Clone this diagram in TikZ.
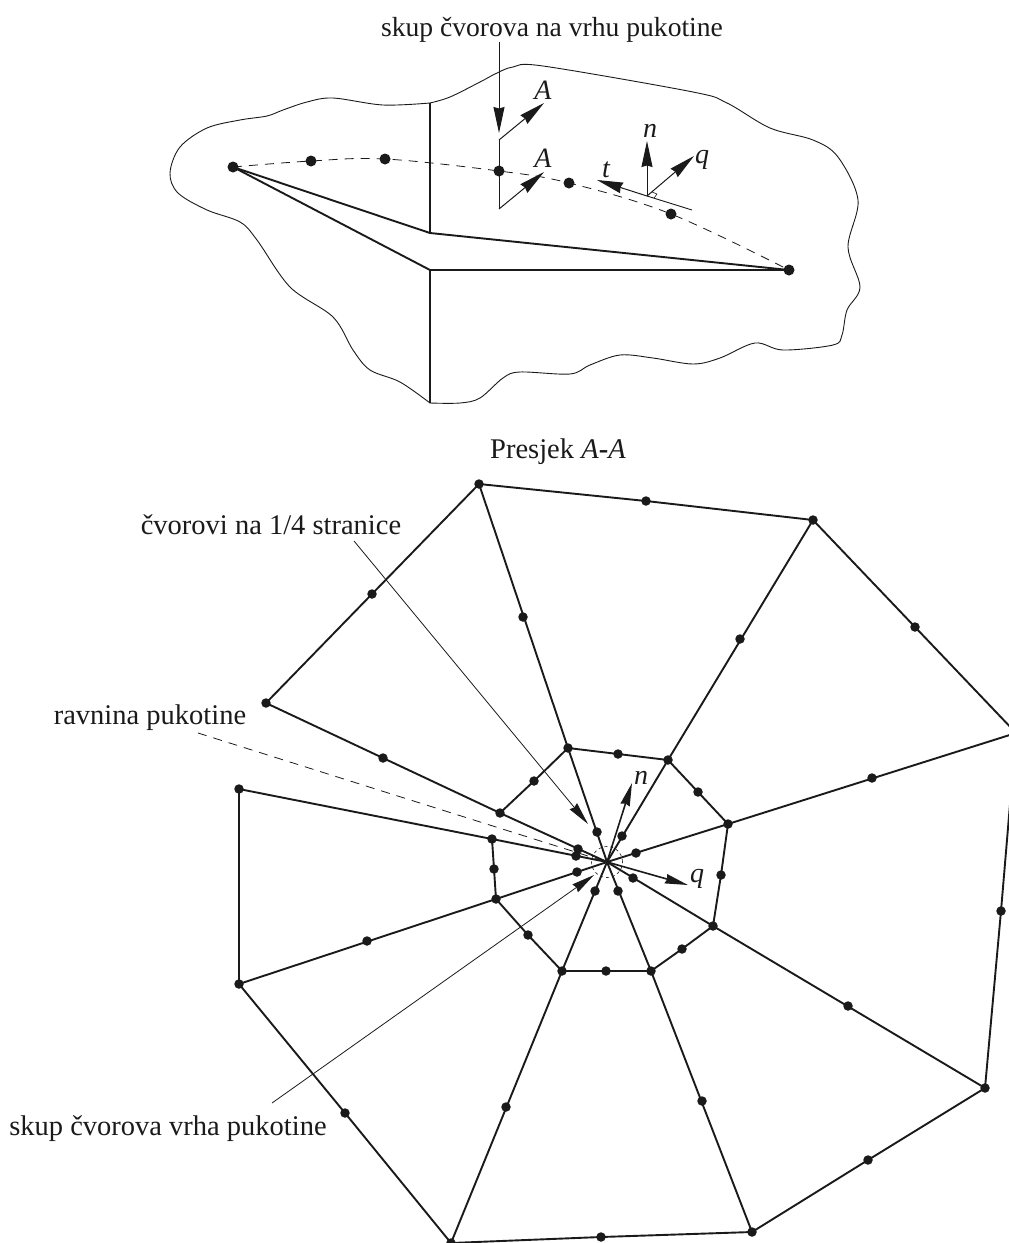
\documentclass[tikz,border=0pt]{standalone}
\usepackage{fontspec}
\setmainfont{Liberation Serif}
\usetikzlibrary{arrows.meta}
\definecolor{ink}{HTML}{1A1A1A}
\tikzset{
  dotbig/.style={circle,fill=ink,inner sep=0pt,minimum size=11pt},
  dotsm/.style={circle,fill=ink,inner sep=0pt,minimum size=9.5pt},
  thickl/.style={draw=ink,line width=1.9pt,line join=round},
  thinl/.style={draw=ink,line width=0.9pt},
  dashl/.style={draw=ink,line width=0.8pt,dash pattern=on 9pt off 7pt},
  arr/.style={draw=ink,line width=1pt,-{Stealth[length=26pt,width=11pt,inset=1.5pt,fill=ink]}},
  arrs/.style={draw=ink,line width=1pt,-{Stealth[length=23pt,width=9.5pt,inset=1.5pt,fill=ink]}},
  lab/.style={inner sep=0pt,text=ink,font=\fontsize{28.5}{32}\selectfont},
  labt/.style={inner sep=0pt,text=ink,font=\fontsize{27.6}{32}\selectfont},
  sym/.style={inner sep=0pt,text=ink,font=\fontsize{28}{32}\selectfont\itshape}
}
\begin{document}
\begin{tikzpicture}[x=1pt,y=-1pt]
\useasboundingbox (0,0) rectangle (1009,1243);
\clip (0,0) rectangle (1009,1243);
% --- upper view ---
\draw[draw=ink,line width=0.9pt] plot[smooth,tension=0.55] coordinates {
 (430,103) (383,105) (333,98) (307,102) (283,110) (267,116) (240,120) (207,128) (180,147) (170,173) (178,193) (207,210) (240,222) (257,240) (290,287) (333,317) (353,350) (370,370) (400,382) (430,403)};
\draw[draw=ink,line width=0.9pt] plot[smooth,tension=0.55] coordinates {
 (430,403) (460,403) (480,398) (503,378) (520,372) (570,374) (590,365) (620,355) (653,358) (693,364) (720,358) (755,343) (783,350) (833,345) (842,335) (847,310) (860,287) (848,247) (858,200) (838,157) (813,140) (770,128) (727,103) (693,92) (543,66) (513,67) (497,73) (480,82) (450,97) (430,103)};
\node[dotbig] (t1) at (233,167) {};
\node[dotbig] (t2) at (311,161) {};
\node[dotbig] (t3) at (385,159) {};
\node[dotbig] (t4) at (499,171) {};
\node[dotbig] (t5) at (569,183) {};
\node[dotbig] (t6) at (671,214) {};
\node[dotbig] (t7) at (789,270) {};
\draw[dashl] plot[smooth,tension=0.6] coordinates {(233,167) (311,161) (385,159) (499,171) (569,183) (671,214) (789,270)};
\coordinate (a) at (430,103);
\coordinate (b) at (430,233);
\coordinate (d) at (430,270);
\coordinate (e) at (430,403);
\draw[thickl] (a) -- (b) -- (t7.center) -- (d) -- (e);
\draw[thickl] (t1.center) -- (b);
\draw[thickl] (t1.center) -- (d);
% section A-A
\coordinate (s1) at (499,140);
\coordinate (s2) at (499,209);
\coordinate (s1e) at (544,103);
\coordinate (s2e) at (544,172);
\coordinate (lt) at (499,42);
\coordinate (lb) at (499,133);
\draw[thinl] (s1) -- (s2);
\draw[arr] (s1) -- (s1e);
\draw[arr] (s2) -- (s2e);
\draw[arr] (lt) -- (lb);
\node[sym] (la1) at (543,90) {A};
\node[sym] (la2) at (543,158) {A};
% n q t
\coordinate (o) at (647,196);
\coordinate (oN) at (647,141);
\coordinate (oQ) at (694,156);
\coordinate (oT) at (597,180);
\coordinate (oE) at (692,210);
\draw[thinl] (o) -- (oE);
\draw[arr] (o) -- (oN);
\draw[arr] (o) -- (oQ);
\draw[arr] (o) -- (oT);
\draw[draw=ink,line width=0.6pt] (652,192) -- (657,194) -- (654,198);
\node[sym] (ln) at (650,131) {n};
\node[sym] (lq) at (702,160) {q};
\node[sym] (lt2) at (606,170) {t};
\node[labt] (title) at (552,30) {skup čvorova na vrhu pukotine};
\node[lab] (sec) at (558,452) {Presjek \textit{A}{\bfseries -}\textit{A}};
% --- lower mesh ---
\coordinate (c) at (607,862);
\foreach \n/\x/\y in {o1/479/484,o2/813/520,o3/1016/733,o4/985/1088,o5/752/1232,o6/451/1243,o7/239/984,o8/239/789,o9/266/703,
  i1/568/748,i2/668/760,i3/728/824,i4/713/926,i5/651/971,i6/562/971,i7/496/899,i8/492/839,i9/500/813,
  a1/646/501,a2/915/627,a3/1001/911,a4/868/1160,a5/601/1237,a6/345/1113,a7/372/594,
  r1/523/617,r2/740/639,r3/872/778,r4/848/1006,r5/702/1101,r6/506/1107,r7/367/941,r9/383/758,
  b1/618/754,b2/698/792,b3/721/875,b4/682/949,b5/606/971,b6/528/935,b7/494/869,b8/534/781,
  q1/597/832,q2/622/836,q3/636/853,q4/633/878,q5/618/891,q6/595/891,q7/577/872,q8/576/856,q9/578/849}
  {\node[dotsm] (\n) at (\x,\y) {};}
% outer ring
\draw[thickl] (o1.center) -- (a1.center) -- (o2.center) -- (a2.center) -- (o3.center) -- (a3.center) -- (o4.center) -- (a4.center) -- (o5.center) -- (a5.center) -- (o6.center) -- (a6.center) -- (o7.center) -- (o8.center);
\draw[thickl] (o9.center) -- (a7.center) -- (o1.center);
% inner ring
\draw[thickl] (i1.center) -- (b1.center) -- (i2.center) -- (b2.center) -- (i3.center) -- (b3.center) -- (i4.center) -- (b4.center) -- (i5.center) -- (b5.center) -- (i6.center) -- (b6.center) -- (i7.center) -- (b7.center) -- (i8.center);
\draw[thickl] (i9.center) -- (b8.center) -- (i1.center);
% spokes
\draw[thickl] (o1.center) -- (i1.center) -- (c);
\draw[thickl] (o2.center) -- (i2.center) -- (c);
\draw[thickl] (o3.center) -- (i3.center) -- (c);
\draw[thickl] (o4.center) -- (i4.center) -- (c);
\draw[thickl] (o5.center) -- (i5.center) -- (c);
\draw[thickl] (o6.center) -- (i6.center) -- (c);
\draw[thickl] (o7.center) -- (i7.center) -- (c);
\draw[thickl] (o8.center) -- (i8.center) -- (c);
\draw[thickl] (o9.center) -- (i9.center) -- (c);
% tip circle
\node[draw=ink,line width=0.6pt,dash pattern=on 3pt off 3pt,circle,minimum size=31pt,inner sep=0pt] (tip) at (c) {};
% arrows at tip
\coordinate (nE) at (632,783);
\coordinate (qE) at (688,885);
\draw[arrs,line width=1.6pt] (c) -- (nE);
\draw[arrs,line width=1.6pt] (c) -- (qE);
\node[sym] (ln2) at (641,778) {n};
\node[sym] (lq2) at (697,879) {q};
% leaders
\coordinate (l1s) at (354,541);
\coordinate (l1e) at (588,824);
\draw[arrs,line width=0.8pt] (l1s) -- (l1e);
\coordinate (l3s) at (272,1103);
\coordinate (l3e) at (594,875);
\draw[arrs,line width=0.8pt] (l3s) -- (l3e);
\coordinate (l2s) at (198,733);
\draw[dashl] (l2s) -- (c);
\node[lab] (t1l) at (271,525) {čvorovi na 1/4 stranice};
\node[lab] (t2l) at (150,718) {ravnina pukotine};
\node[lab] (t3l) at (168,1129) {skup čvorova vrha pukotine};
\end{tikzpicture}
\end{document}
